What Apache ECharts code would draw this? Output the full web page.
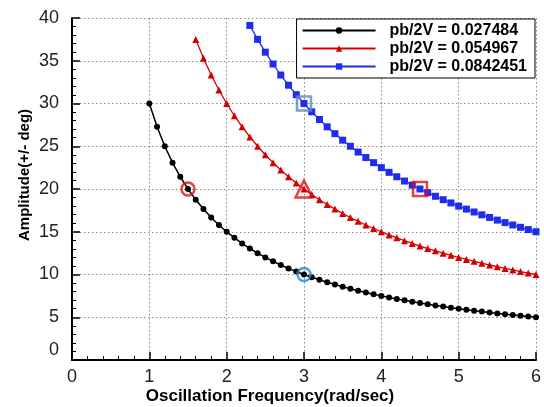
<!DOCTYPE html>
<html>
<head>
<meta charset="utf-8">
<script src="https://cdn.jsdelivr.net/npm/echarts@6/dist/echarts.min.js"></script>
<style>html,body{margin:0;padding:0;background:#fff;}#c{width:544px;height:407px;}</style>
</head>
<body>
<div id="c"></div>
<script>
// Data
var freqBlack = [1.0,1.1,1.2,1.3,1.4,1.5,1.6,1.7,1.8,1.9,2.0,2.1,2.2,2.3,2.4,2.5,2.6,2.7,2.8,2.9,3.0,3.1,3.2,3.3,3.4,3.5,3.6,3.7,3.8,3.9,4.0,4.1,4.2,4.3,4.4,4.5,4.6,4.7,4.8,4.9,5.0,5.1,5.2,5.3,5.4,5.5,5.6,5.7,5.8,5.9,6.0];
var ampBlack = [30,27.27,25,23.08,21.43,20,18.75,17.65,16.67,15.79,15,14.29,13.64,13.04,12.5,12,11.54,11.11,10.71,10.34,10,9.68,9.38,9.09,8.82,8.57,8.33,8.11,7.89,7.69,7.5,7.32,7.14,6.98,6.82,6.67,6.52,6.38,6.25,6.12,6,5.88,5.77,5.66,5.56,5.45,5.36,5.26,5.17,5.08,5];
var freqRed = [1.6,1.7,1.8,1.9,2.0,2.1,2.2,2.3,2.4,2.5,2.6,2.7,2.8,2.9,3.0,3.1,3.2,3.3,3.4,3.5,3.6,3.7,3.8,3.9,4.0,4.1,4.2,4.3,4.4,4.5,4.6,4.7,4.8,4.9,5.0,5.1,5.2,5.3,5.4,5.5,5.6,5.7,5.8,5.9,6.0];
var ampRed = [37.5,35.29,33.33,31.58,30,28.57,27.27,26.09,25,24,23.08,22.22,21.43,20.69,20,19.35,18.75,18.18,17.65,17.14,16.67,16.22,15.79,15.38,15,14.63,14.29,13.95,13.64,13.33,13.04,12.77,12.5,12.24,12,11.76,11.54,11.32,11.11,10.91,10.71,10.53,10.34,10.17,10];
var freqBlue = [2.3,2.4,2.5,2.6,2.7,2.8,2.9,3.0,3.1,3.2,3.3,3.4,3.5,3.6,3.7,3.8,3.9,4.0,4.1,4.2,4.3,4.4,4.5,4.6,4.7,4.8,4.9,5.0,5.1,5.2,5.3,5.4,5.5,5.6,5.7,5.8,5.9,6.0];
var ampBlue = [39.13,37.5,36,34.62,33.33,32.14,31.03,30,29.03,28.13,27.27,26.47,25.71,25,24.32,23.68,23.08,22.5,21.95,21.43,20.93,20.45,20,19.57,19.15,18.75,18.37,18,17.65,17.31,16.98,16.67,16.36,16.07,15.79,15.52,15.25,15];
var seriesNames = ['pb/2V = 0.027484', 'pb/2V = 0.054967', 'pb/2V = 0.0842451'];
// highlighted points
var markCircleRed = [[1.5, 20]];
var markCircleBlue = [[3, 10]];
var markTriangleRed = [[3, 20]];
var markSquareSteel = [[3, 30]];
var markSquareRed = [[4.5, 20]];
var xTitle = 'Oscillation Frequency(rad/sec)';
var yTitle = 'Amplitude(+/- deg)';

function pairs(xs, ys){ return xs.map(function(x,i){ return [x, ys[i]]; }); }

var FONT = 'Arial, "Liberation Sans", sans-serif';
var chart = echarts.init(document.getElementById('c'), null, {renderer:'canvas'});
var axisCommon = {
  axisLine: {show:true, onZero:false, lineStyle:{color:'#000', width:2}},
  axisTick: {show:true, inside:true, length:8, lineStyle:{color:'#000', width:1.5}},
  minorTick: {show:true, splitNumber:5, length:4, lineStyle:{color:'#000', width:1}},
  splitLine: {show:true, lineStyle:{color:'#8a8a8a', type:[1.5,2.5], width:1}},
  minorSplitLine: {show:false}
};
chart.setOption({
  animation:false,
  backgroundColor:'#fff',
  grid:{left:72, right:7, top:18, bottom:47, containLabel:false},
  xAxis: Object.assign({
    type:'value', min:0, max:6, interval:1,
    axisLabel:{fontSize:18, color:'#222', fontFamily:FONT, margin:8}
  }, axisCommon),
  yAxis: Object.assign({
    type:'value', min:0, max:40, interval:5,
    axisLabel:{fontSize:18, color:'#222', fontFamily:FONT, margin:13,
      formatter:function(v){ return v === 0 ? '{z|0}' : String(v); },
      rich:{z:{fontSize:18, color:'#222', fontFamily:FONT, padding:[0,0,20,0]}}}
  }, axisCommon),
  legend:{
    orient:'vertical', right:9, top:19,
    data: seriesNames,
    backgroundColor:'#fff', borderColor:'#000', borderWidth:1,
    padding:[3,8,3,5], itemGap:1, itemWidth:73, itemHeight:8,
    textStyle:{fontSize:16, fontWeight:'bold', fontFamily:FONT, color:'#000', lineHeight:17, padding:[0,0,0,9]}
  },
  graphic:[
    {type:'text', x:270, y:396, z:10, style:{text:xTitle, font:'bold 17px '+FONT, fill:'#000', align:'center', verticalAlign:'middle'}},
    {type:'text', x:25, y:175, rotation:Math.PI/2, z:10, style:{text:yTitle, font:'bold 15px '+FONT, fill:'#000', align:'center', verticalAlign:'middle'}}
  ],
  series:[
    {name:seriesNames[0], type:'line', data:pairs(freqBlack, ampBlack), symbol:'circle', symbolSize:6,
      lineStyle:{color:'#000', width:1.5}, itemStyle:{color:'#000'}, z:3},
    {name:seriesNames[1], type:'line', data:pairs(freqRed, ampRed), symbol:'triangle', symbolSize:7,
      lineStyle:{color:'#d40000', width:1.3}, itemStyle:{color:'#d40000'}, z:3},
    {name:seriesNames[2], type:'line', data:pairs(freqBlue, ampBlue), symbol:'rect', symbolSize:7,
      lineStyle:{color:'#1f2cf0', width:1.3}, itemStyle:{color:'#1f2cf0'}, z:3},
    {type:'scatter', data:markCircleRed, symbol:'circle', symbolSize:13,
      itemStyle:{color:'rgba(0,0,0,0)', borderColor:'#e01010', borderWidth:2.5}, z:5},
    {type:'scatter', data:markCircleBlue, symbol:'circle', symbolSize:13,
      itemStyle:{color:'rgba(0,0,0,0)', borderColor:'#1e88d8', borderWidth:2.5}, z:5},
    {type:'scatter', data:markTriangleRed, symbol:'triangle', symbolSize:17,
      itemStyle:{color:'rgba(0,0,0,0)', borderColor:'#e01010', borderWidth:2.5}, z:5},
    {type:'scatter', data:markSquareSteel, symbol:'rect', symbolSize:14,
      itemStyle:{color:'rgba(0,0,0,0)', borderColor:'#5a8ac8', borderWidth:2.5}, z:5},
    {type:'scatter', data:markSquareRed, symbol:'rect', symbolSize:14,
      itemStyle:{color:'rgba(0,0,0,0)', borderColor:'#e01010', borderWidth:2.5}, z:5}
  ]
});
</script>
</body>
</html>
